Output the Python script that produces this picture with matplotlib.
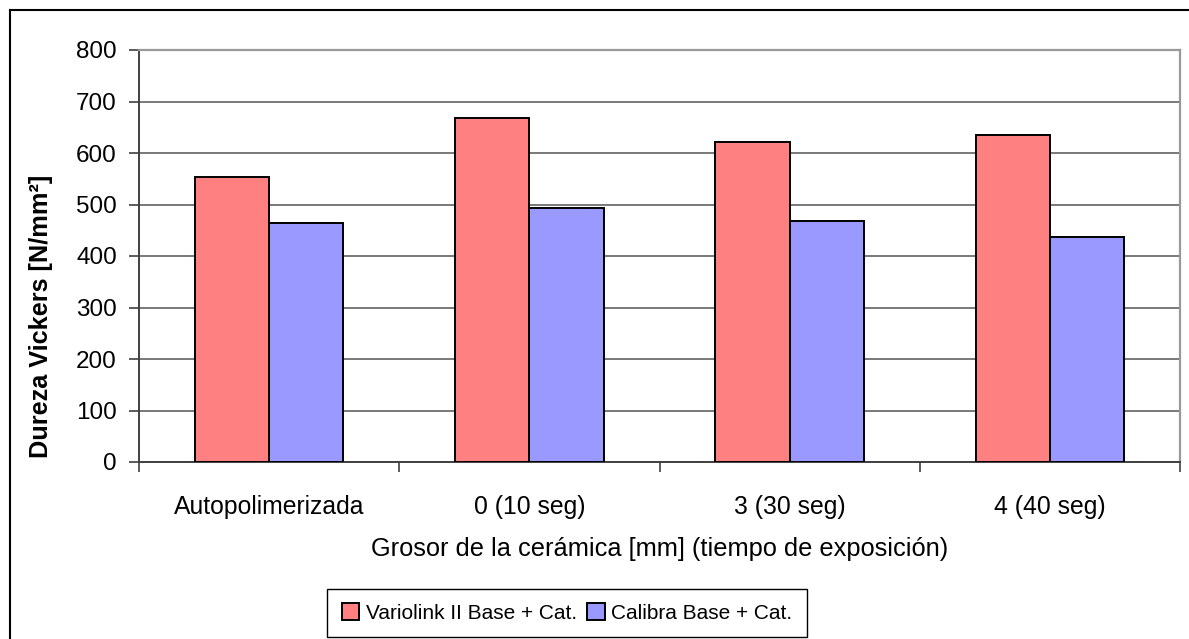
import numpy as np
import matplotlib
matplotlib.use("Agg")
from matplotlib import pyplot as plt
from matplotlib.lines import Line2D

categorias = ["Autopolimerizada", "0 (10 seg)", "3 (30 seg)", "4 (40 seg)"]
variolink = [554, 667, 622, 635]
calibra = [465, 493, 467, 436]
series = ["Variolink II Base + Cat.", "Calibra Base + Cat."]

plt.rcParams['font.family'] = ['Liberation Sans', 'DejaVu Sans']

fig = plt.figure(figsize=(11.89, 6.39), dpi=100, facecolor='w')
ax = fig.add_axes([139/1189, 1-462/639, (1180-139)/1189, (462-50)/639])

x = np.arange(len(categorias))
w = 0.285
b1 = ax.bar(x - w/2, variolink, w, color='#FF8080', edgecolor='black', linewidth=1.4, label=series[0], zorder=3)
b2 = ax.bar(x + w/2, calibra, w, color='#9999FF', edgecolor='black', linewidth=1.4, label=series[1], zorder=3)

ax.set_xlim(-0.5, len(categorias) - 0.5)
ax.set_ylim(0, 800)
ax.set_yticks(range(0, 801, 100))
ax.yaxis.grid(True, color='#555555', linewidth=1.1, zorder=0)

ax.set_xticks(x)
ax.set_xticklabels(categorias, fontsize=17.8)
ax.set_xticks(np.arange(-0.5, len(categorias)), minor=True)
ax.tick_params(axis='x', which='major', length=0, pad=24)
ax.tick_params(axis='x', which='minor', length=7, width=1.2, direction='out', color='#404040')
ax.tick_params(axis='y', length=7, width=1.2, direction='out', color='#404040', labelsize=17.5, pad=9)

for s in ['left', 'bottom']:
    ax.spines[s].set_color('#404040')
    ax.spines[s].set_linewidth(1.4)
for s in ['top', 'right']:
    ax.spines[s].set_color('#999999')
    ax.spines[s].set_linewidth(1.6)

ax.set_xlabel("Grosor de la cerámica [mm] (tiempo de exposición)", fontsize=18.3, labelpad=13)
ax.set_ylabel("Dureza Vickers [N/mm²]", fontsize=18.2, fontweight='bold')
ax.yaxis.set_label_coords(-0.083, 0.354)

leg = fig.legend(handles=[b1, b2], labels=series, loc='center',
                 bbox_to_anchor=(567/1189, 1-613/639), ncol=2, fontsize=15,
                 frameon=True, fancybox=False, edgecolor='black', framealpha=1,
                 handlelength=0.85, handleheight=0.85, handletextpad=0.3,
                 columnspacing=0.5, borderpad=0.7, borderaxespad=0)
leg.get_frame().set_linewidth(1.0)

# outer chart border (top and left)
fig.add_artist(Line2D([10/1189, 1], [1-9.5/639, 1-9.5/639], color='black', linewidth=1.5))
fig.add_artist(Line2D([10/1189, 10/1189], [0, 1-9.5/639], color='black', linewidth=1.5))

fig.savefig("out.png", dpi=100, facecolor='w')
